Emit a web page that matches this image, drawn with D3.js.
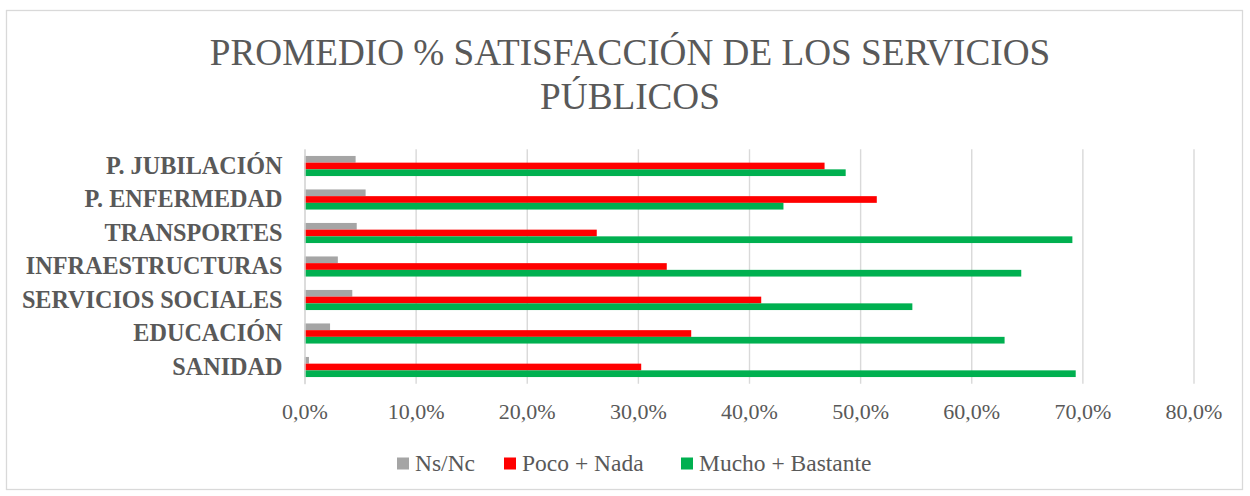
<!DOCTYPE html>
<html>
<head>
<meta charset="utf-8">
<script src="https://cdn.jsdelivr.net/npm/d3@7"></script>
<style>
  body { margin: 0; background: #fff; }
  svg { display: block; }
</style>
</head>
<body>
<svg></svg>
<script>
const categories = ['P. JUBILACIÓN', 'P. ENFERMEDAD', 'TRANSPORTES', 'INFRAESTRUCTURAS', 'SERVICIOS SOCIALES', 'EDUCACIÓN', 'SANIDAD'];
const seriesNames = ['Ns/Nc', 'Poco + Nada', 'Mucho + Bastante'];
const nsnc = [4.6, 5.5, 4.7, 3.0, 4.3, 2.3, 0.4];
const pocoNada = [46.8, 51.5, 26.3, 32.6, 41.1, 34.8, 30.3];
const muchoBastante = [48.7, 43.1, 69.1, 64.5, 54.7, 63.0, 69.4];
const tickValues = [0, 10, 20, 30, 40, 50, 60, 70, 80];
const titleLines = ['PROMEDIO % SATISFACCIÓN DE LOS SERVICIOS', 'PÚBLICOS'];

const WIDTH = 1250;
const HEIGHT = 496;
const PLOT_LEFT = 304.5;
const PLOT_RIGHT = 1193.5;
const PLOT_TOP = 149.25;
const PLOT_BOTTOM = 383.75;
const TEXT_COLOR = '#595959';
const FONT = '"Liberation Serif", "Times New Roman", serif';

const colors = ['#A5A5A5', '#FF0000', '#00B050'];
const seriesValues = [nsnc, pocoNada, muchoBastante];

const data = categories.map((c, i) => ({
  category: c,
  values: seriesNames.map((s, j) => ({ series: s, idx: j, value: seriesValues[j][i] }))
}));

const svg = d3.select('svg').
attr('width', WIDTH).
attr('height', HEIGHT).
attr('font-family', FONT);

// chart border
svg.append('rect').
attr('x', 6.5).
attr('y', 10.5).
attr('width', 1236).
attr('height', 479).
attr('fill', '#fff').
attr('stroke', '#D9D9D9').
attr('stroke-width', 1.3);

const xScale = d3.scaleLinear().
domain([0, 80]).
range([PLOT_LEFT, PLOT_RIGHT]);

const yScale = d3.scaleBand().
domain(categories).
range([PLOT_TOP, PLOT_BOTTOM]).
paddingInner(0.4).
paddingOuter(0.2);

const subScale = d3.scaleBand().
domain(seriesNames).
range([0, yScale.bandwidth()]);

// gridlines + x tick labels
const xAxis = d3.axisBottom(xScale).
tickValues(tickValues).
tickSize(-(PLOT_BOTTOM - PLOT_TOP)).
tickPadding(20).
tickFormat(d => d3.format('.1f')(d).replace('.', ',') + '%');

const xG = svg.append('g').
attr('transform', `translate(0, ${PLOT_BOTTOM})`).
call(xAxis);

xG.select('.domain').remove();
xG.selectAll('.tick line').
attr('stroke', '#D9D9D9').
attr('stroke-width', 1.4);
xG.selectAll('.tick text').
attr('fill', TEXT_COLOR).
attr('font-size', '22px').
attr('font-family', FONT);

// bars
const groups = svg.append('g').
selectAll('g').
data(data).
join('g').
attr('transform', d => `translate(0, ${yScale(d.category)})`);

groups.selectAll('rect').
data(d => d.values).
join('rect').
attr('x', xScale(0)).
attr('y', d => subScale(d.series)).
attr('width', d => xScale(d.value) - xScale(0)).
attr('height', subScale.bandwidth()).
attr('fill', d => colors[d.idx]);

// category axis
const yAxis = d3.axisLeft(yScale).
tickSize(0).
tickPadding(22);

const yG = svg.append('g').
attr('transform', `translate(${PLOT_LEFT}, 0)`).
call(yAxis);

yG.select('.domain').
attr('stroke', '#D9D9D9').
attr('stroke-width', 1.4);
yG.selectAll('.tick text').
attr('fill', TEXT_COLOR).
attr('font-size', '24.2px').
attr('font-weight', 'bold').
attr('font-family', FONT);

// title
svg.append('text').
attr('text-anchor', 'middle').
attr('fill', TEXT_COLOR).
attr('font-size', '37.2px').
selectAll('tspan').
data(titleLines).
join('tspan').
attr('x', 630).
attr('y', (d, i) => 65 + i * 43.5).
text(d => d);

// legend
const legendX = [397, 504, 681];
const legend = svg.append('g').
selectAll('g').
data(seriesNames).
join('g').
attr('transform', (d, i) => `translate(${legendX[i]}, 457.5)`);

legend.append('rect').
attr('width', 12).
attr('height', 12).
attr('fill', (d, i) => colors[i]);

legend.append('text').
attr('x', 18).
attr('y', 13.5).
attr('fill', TEXT_COLOR).
attr('font-size', '23.5px').
text(d => d);
</script>
</body>
</html>
